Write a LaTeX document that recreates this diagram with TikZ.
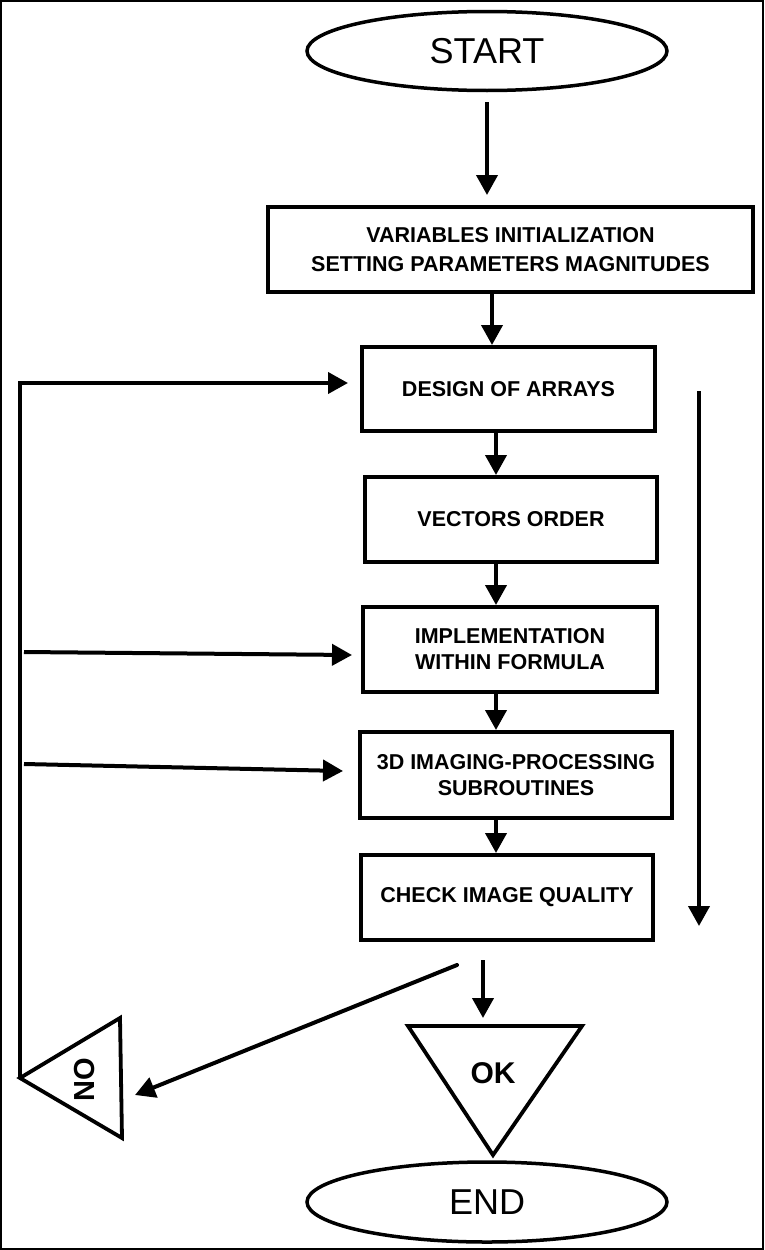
\documentclass[tikz,border=0pt]{standalone}
\usepackage{fontspec}
\setmainfont{Liberation Sans}
\usetikzlibrary{arrows.meta,shapes.geometric}
\begin{document}
\begin{tikzpicture}[x=1pt,y=-1pt,
  box/.style={draw,line width=4pt,rectangle,inner sep=0pt,align=center,
    font=\fontsize{21.5}{26}\selectfont\bfseries},
  term/.style={draw,line width=3.5pt,ellipse,inner sep=0pt,
    minimum width=360pt,minimum height=79pt,font=\fontsize{36}{40}\selectfont},
  arr/.style={line width=4pt,-{Triangle[length=20pt,width=21pt]}},
  tri/.style={draw,line width=3.8pt,line join=miter},
  lbl/.style={inner sep=0pt,font=\fontsize{30}{34}\selectfont\bfseries}]
\useasboundingbox (0,0) rectangle (764,1250);
\draw[line width=1.5pt] (1,1) rectangle (763,1249);

% nodes
\node[term] (start) at (487,51) {START};
\node[box,minimum width=485pt,minimum height=85pt] (init) at (510.5,249.5)
  {VARIABLES INITIALIZATION\\[3pt]SETTING PARAMETERS MAGNITUDES};
\node[box,minimum width=293pt,minimum height=84pt] (design) at (508.5,389) {DESIGN OF ARRAYS};
\node[box,minimum width=292pt,minimum height=85pt] (vect) at (511,519.5) {VECTORS ORDER};
\node[box,minimum width=294pt,minimum height=85pt] (impl) at (510,649.5) {IMPLEMENTATION\\WITHIN FORMULA};
\node[box,minimum width=312pt,minimum height=86pt] (imgp) at (516,775) {3D IMAGING-PROCESSING\\SUBROUTINES};
\node[box,minimum width=292pt,minimum height=85pt] (check) at (507,897.5) {CHECK IMAGE QUALITY};
\node[term,minimum height=80pt] (end) at (487,1202) {END};

% OK triangle
\coordinate (ok1) at (408,1026);
\coordinate (ok2) at (582,1026);
\coordinate (ok3) at (493,1155);
\draw[tri] (ok1) -- (ok2) -- (ok3) -- cycle;
\node[lbl] (ok) at (493,1073) {OK};

% NO triangle
\coordinate (no1) at (20,1078);
\coordinate (no2) at (120,1018);
\coordinate (no3) at (122,1138);
\draw[tri] (no1) -- (no2) -- (no3) -- cycle;
\node[lbl,rotate=90,font=\fontsize{29}{32}\selectfont\bfseries] (no) at (85,1080) {NO};

% helper coordinates
\coordinate (xa) at (492,0);
\coordinate (xb) at (496,0);
\coordinate (xo) at (483,0);
\coordinate (loopc) at (20,383);
\coordinate (in1s) at (24,652);
\coordinate (in1e) at (352,655);
\coordinate (in2s) at (24,764);
\coordinate (in2e) at (343,771);
\coordinate (rs) at (699,391);
\coordinate (re) at (699,926);
\coordinate (nos) at (457,965);
\coordinate (noe) at (135,1095);

% main flow
\draw[arr,shorten <=10pt,shorten >=10pt] (start.south) -- (start.south |- init.north);
\draw[arr] (xa |- init.south) -- (xa |- design.north);
\draw[arr] (xb |- design.south) -- (xb |- vect.north);
\draw[arr] (xb |- vect.south) -- (xb |- impl.north);
\draw[arr] (xb |- impl.south) -- (xb |- imgp.north);
\draw[arr] (xb |- imgp.south) -- (xb |- check.north);
\draw[arr,shorten <=18pt,shorten >=8pt] (xo |- check.south) -- (xo |- ok1);

% NO branch
\draw[arr,line cap=round] (nos) -- (noe);
\draw[arr,line join=miter] (no1) -- (loopc) -- ([xshift=-12pt]loopc -| design.west);
\draw[arr] (in1s) -- (in1e);
\draw[arr] (in2s) -- (in2e);

% right side arrow
\draw[arr] (rs) -- (re);
\end{tikzpicture}
\end{document}
